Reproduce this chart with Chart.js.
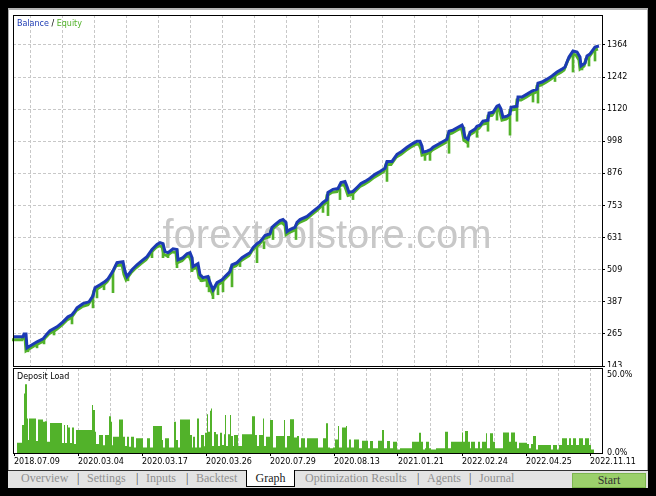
<!DOCTYPE html>
<html lang="en">
<head>
<meta charset="UTF-8">
<script src="https://cdn.jsdelivr.net/npm/chart.js"></script>
<title>Balance / Equity</title>
<style>
    body { margin: 0; width: 656px; height: 496px; background: #000; overflow: hidden; position: relative; }
    #frame { position: absolute; left: 8px; top: 8px; width: 638px; height: 460px; background: #fff;
             border-top: 2px solid #b4b4b4; border-left: 1px solid #a8a8a8; border-right: 1px solid #a8a8a8; }
    #main { position: absolute; left: 9px; top: 10px; }
    #load { position: absolute; left: 9px; top: 367px; background: #fff; }
    #tabs { position: absolute; left: 8px; top: 470px; width: 640px; height: 17px; background: #e3e3e3;
            border-top: 1px solid #333; font-family: 'Liberation Serif', serif; font-size: 12px; }
    #tabs span { position: absolute; top: 0; line-height: 15px; color: #909090; white-space: nowrap; }
    #tabs span.sep { color: #444; }
    #graphTab { position: absolute; left: 238px; top: -1px; width: 47px; height: 16px; background: #fff;
                border: 1px solid #000; border-top: none; text-align: center; line-height: 16px; color: #222; }
    #start { position: absolute; left: 564px; top: 2px; width: 72px; height: 13px; background: #9bd06b;
             border: 1px solid #7db64f; text-align: center; line-height: 13px; color: #333; }
</style>
</head>
<body>
<div id="frame"></div>
<canvas id="main" width="638" height="357"></canvas>
<canvas id="load" width="638" height="103"></canvas>
<div id="tabs">
    <span style="left:13px">Overview</span>
    <span class="sep" style="left:69px">|</span>
    <span style="left:79px">Settings</span>
    <span class="sep" style="left:128px">|</span>
    <span style="left:138px">Inputs</span>
    <span class="sep" style="left:178px">|</span>
    <span style="left:188px">Backtest</span>
    <div id="graphTab">Graph</div>
    <span style="left:297px">Optimization Results</span>
    <span class="sep" style="left:409px">|</span>
    <span style="left:419px">Agents</span>
    <span class="sep" style="left:461px">|</span>
    <span style="left:471px">Journal</span>
    <div id="start">Start</div>
</div>
<script>
    // x = trade number along the test, balance in account currency
    const balanceIdx = [0, 10, 11, 13, 14, 17, 24, 30, 34, 37, 44, 50, 55, 59, 62, 64, 70, 76, 80, 82, 87, 92, 95, 99, 100,
        104, 110, 112, 114, 119, 124, 129, 134, 139, 144, 147, 150, 152, 155, 160, 164, 165, 170, 174, 177, 179, 180, 185,
        187, 190, 195, 197, 200, 204, 209, 212, 217, 219, 224, 229, 234, 237, 240, 244, 247, 252, 257, 259, 262, 267, 270,
        273, 274, 277, 282, 284, 287, 294, 300, 305, 310, 314, 315, 320, 325, 328, 332, 334, 336, 340, 344, 348, 352, 357,
        362, 367, 372, 374, 379, 384, 389, 394, 400, 404, 407, 409, 410, 414, 418, 420, 427, 434, 436, 440, 445, 449, 450,
        452, 455, 457, 462, 464, 467, 470, 475, 476, 480, 484, 486, 488, 490, 494, 497, 498, 504, 505, 509, 514, 519, 524,
        525, 529, 534, 539, 544, 549, 552, 556, 560, 564, 567, 568, 572, 574, 577, 582, 586];
    const balanceVal = [254, 254, 265, 265, 212, 219, 235, 246, 265, 277, 292, 311, 330, 338, 353, 364, 380, 387, 410, 441,
        452, 464, 475, 498, 505, 536, 540, 502, 483, 509, 528, 544, 559, 586, 605, 612, 608, 578, 574, 589, 586, 547, 555,
        570, 574, 555, 521, 532, 490, 479, 483, 460, 433, 460, 471, 483, 502, 528, 536, 555, 567, 574, 593, 608, 616, 639,
        646, 670, 681, 696, 700, 689, 654, 662, 670, 689, 700, 712, 731, 746, 765, 776, 803, 815, 818, 841, 845, 826, 803,
        807, 822, 837, 845, 857, 872, 883, 895, 921, 921, 948, 960, 975, 990, 998, 998, 979, 956, 960, 967, 975, 990, 1005,
        1036, 1040, 1051, 1059, 1051, 1013, 1005, 1032, 1044, 1055, 1059, 1074, 1078, 1105, 1108, 1131, 1135, 1120, 1089,
        1093, 1101, 1127, 1131, 1166, 1166, 1177, 1189, 1196, 1219, 1223, 1234, 1246, 1261, 1272, 1280, 1318, 1341, 1337,
        1318, 1284, 1295, 1322, 1330, 1356, 1360];

    // equity drawdowns while trades were open
    const dipIdx = [15, 24, 31, 41, 59, 80, 84, 91, 100, 115, 139, 150, 155, 164, 179, 188, 194, 196, 200, 205, 210, 219,
        227, 244, 251, 260, 283, 310, 315, 327, 340, 374, 412, 417, 436, 451, 455, 464, 475, 484, 497, 504, 520, 525, 542,
        560, 569, 576, 582];
    const dipLow = [197, 212, 227, 261, 303, 364, 402, 433, 422, 467, 555, 555, 555, 517, 502, 464, 444, 425, 399, 414,
        425, 444, 521, 536, 589, 624, 624, 727, 715, 776, 776, 845, 925, 925, 952, 998, 975, 1013, 1036, 1078, 1021, 1074,
        1147, 1143, 1225, 1261, 1269, 1284, 1303];

    const balanceTicks = [143, 265, 387, 509, 631, 753, 876, 998, 1120, 1242, 1364];
    const gridIdx = [1, 33, 65, 97, 129, 161, 193, 225, 257, 289, 321, 353, 385, 417, 449, 481, 513, 545, 577];
    const dateLabels = ['2018.07.09', '2020.03.04', '2020.03.17', '2020.03.26', '2020.07.29', '2020.08.13',
        '2021.01.21', '2022.02.24', '2022.04.25', '2022.11.11'];

    // deposit load, % (value holds until the next index)
    const loadIdx = [0, 4, 9, 11, 12, 14, 15, 16, 23, 25, 30, 32, 34, 37, 49, 51, 52, 54, 55, 57, 59, 61, 63, 79, 80, 82,
        83, 86, 90, 92, 96, 98, 99, 100, 106, 110, 112, 114, 116, 118, 121, 123, 130, 134, 137, 140, 149, 150, 152, 156,
        161, 163, 165, 167, 177, 179, 180, 182, 184, 186, 188, 191, 192, 194, 195, 197, 198, 199, 201, 203, 205, 207, 209,
        211, 212, 213, 215, 217, 218, 220, 221, 225, 229, 239, 242, 244, 246, 250, 251, 253, 257, 260, 263, 271, 272, 274,
        277, 281, 284, 286, 288, 292, 294, 305, 310, 313, 315, 317, 320, 322, 325, 326, 329, 333, 334, 336, 338, 341, 346,
        349, 355, 357, 360, 365, 369, 371, 374, 377, 380, 384, 387, 399, 406, 408, 410, 412, 413, 416, 418, 423, 432, 435,
        438, 449, 450, 452, 455, 457, 458, 462, 465, 467, 469, 473, 474, 477, 480, 482, 490, 496, 498, 502, 504, 506, 514,
        516, 518, 520, 523, 525, 538, 540, 544, 546, 549, 554, 556, 558, 560, 563, 566, 570, 572, 576, 578, 581, 586];
    const loadPct = [7.2, 0, 6.6, 17.9, 38.1, 44.1, 22.2, 8.3, 22.2, 7.7, 21.5, 20.0, 20.4, 7.2, 19.2, 6.4, 17.9, 6.4,
        17.9, 16.4, 6.4, 16.4, 5.8, 14.7, 30.7, 27.5, 13.6, 5.8, 11.5, 4.9, 11.5, 23.6, 20.0, 4.9, 10.4, 21.5, 10.4, 4.5,
        10.4, 4.0, 10.4, 3.6, 9.4, 3.6, 9.4, 3.6, 17.3, 8.3, 3.6, 9.4, 3.6, 20.0, 8.3, 3.6, 21.5, 11.5, 3.6, 10.4, 3.6,
        22.2, 3.6, 11.5, 4.3, 13.0, 24.9, 13.6, 27.1, 28.5, 4.5, 13.4, 12.1, 4.5, 13.0, 5.1, 12.1, 24.3, 4.5, 12.1, 24.3,
        10.9, 4.5, 11.5, 4.5, 12.1, 23.6, 11.5, 4.5, 11.5, 22.2, 4.5, 10.4, 21.1, 3.6, 10.9, 21.1, 3.6, 10.9, 21.7, 10.0,
        10.9, 3.6, 9.4, 3.6, 9.4, 3.6, 9.4, 19.0, 3.6, 3.0, 3.6, 8.7, 17.3, 3.6, 16.4, 17.3, 3.6, 8.7, 3.6, 8.7, 3.0, 7.9,
        3.0, 7.7, 3.0, 7.9, 14.7, 3.0, 7.7, 3.0, 7.2, 2.3, 3.0, 7.2, 13.0, 7.2, 2.3, 3.0, 7.2, 3.0, 2.3, 3.0, 13.6, 3.0,
        7.2, 13.2, 7.2, 14.1, 7.2, 3.0, 7.2, 3.0, 7.2, 3.0, 7.2, 12.6, 3.0, 12.6, 7.2, 3.0, 13.2, 7.2, 13.2, 7.2, 3.0, 6.6,
        5.8, 3.0, 5.8, 10.9, 2.3, 5.1, 2.3, 5.1, 2.3, 5.1, 9.4, 5.1, 9.4, 5.1, 9.4, 5.1, 9.4, 5.1, 9.4, 5.1, 2.3, 0];
    const loadTicks = [0, 50];

    const BLUE = '#1c3ab4';
    const GREEN = '#52b22a';
    const GRID = '#c8c8c8';
    const tickFont = {family: 'DejaVu Sans', size: 8};

    function balanceAt(t) {
        let v = balanceVal[0];
        for (let i = 0; i < balanceIdx.length; i++) {
            if (balanceIdx[i] <= t) v = balanceVal[i];
        }
        return v;
    }

    const panelFrame = {
        id: 'panelFrame',
        afterDraw(chart) {
            const {ctx, chartArea: a} = chart;
            ctx.save();
            ctx.strokeStyle = '#000';
            ctx.lineWidth = 1;
            ctx.strokeRect(a.left + 0.5, a.top + 0.5, a.right - a.left, a.bottom - a.top);
            ctx.restore();
        }
    };

    // title text + watermark on the balance panel, equity drawn slightly under the balance
    const mainDecor = {
        id: 'mainDecor',
        beforeDatasetsDraw(chart) {
            const ctx = chart.ctx;
            ctx.save();
            ctx.font = '40px "Liberation Sans"';
            ctx.fillStyle = '#c8c8c8';
            ctx.textAlign = 'center';
            ctx.textBaseline = 'alphabetic';
            ctx.fillText('forextoolstore.com', 318, 238);
            ctx.restore();
        },
        beforeDatasetDraw(chart, args) {
            if (args.index === 1) {
                chart.ctx.save();
                chart.ctx.translate(-1, 3);
            }
        },
        afterDatasetDraw(chart, args) {
            if (args.index === 1) chart.ctx.restore();
        },
        afterDraw(chart) {
            const ctx = chart.ctx;
            ctx.save();
            ctx.font = '8px "DejaVu Sans"';
            ctx.textBaseline = 'middle';
            let x = 8;
            const parts = [['Balance', BLUE], [' / ', '#000'], ['Equity', GREEN]];
            for (const [txt, col] of parts) {
                ctx.fillStyle = col;
                ctx.fillText(txt, x, 14);
                x += ctx.measureText(txt).width;
            }
            ctx.restore();
        }
    };

    const loadDecor = {
        id: 'loadDecor',
        afterDraw(chart) {
            const ctx = chart.ctx;
            ctx.save();
            ctx.font = '8px "DejaVu Sans"';
            ctx.fillStyle = '#000';
            ctx.textBaseline = 'middle';
            ctx.fillText('Deposit Load', 8, 10);
            ctx.restore();
        }
    };

    function fixRight(width) {
        return (scale) => {
            scale.width = width;
            scale.paddingTop = 0;
            scale.paddingBottom = 0;
        };
    }

    const xGridTicks = (scale) => { scale.ticks = gridIdx.map(v => ({value: v})); };

    new Chart(document.getElementById('main'), {
        type: 'line',
        data: {
            datasets: [{
                label: 'Balance',
                data: balanceIdx.map((t, i) => ({x: t, y: balanceVal[i]})),
                borderColor: BLUE,
                borderWidth: 3,
                pointRadius: 0,
                order: 0
            }, {
                label: 'Equity',
                data: balanceIdx.map((t, i) => ({x: t, y: balanceVal[i]})),
                borderColor: GREEN,
                borderWidth: 3,
                pointRadius: 0,
                order: 1
            }, {
                type: 'bar',
                label: 'Equity drawdown',
                data: dipIdx.map((t, i) => ({x: t, y: [dipLow[i], balanceAt(t)]})),
                backgroundColor: GREEN,
                barThickness: 2,
                grouped: false,
                order: 2
            }]
        },
        options: {
            responsive: false,
            animation: false,
            devicePixelRatio: 1,
            events: [],
            layout: {padding: {left: 4, top: 5, right: 0, bottom: 1}},
            plugins: {legend: {display: false}, tooltip: {enabled: false}},
            scales: {
                x: {
                    type: 'linear', min: 0, max: 589, offset: false,
                    afterBuildTicks: xGridTicks,
                    afterFit: (s) => { s.height = 0; s.paddingLeft = 0; s.paddingRight = 0; },
                    ticks: {display: false},
                    border: {display: false, dash: [3, 2]},
                    grid: {color: (c) => c.index === 0 ? 'rgba(0,0,0,0)' : GRID, drawTicks: false}
                },
                y: {
                    position: 'right', min: 143, max: 1478,
                    afterBuildTicks: (s) => { s.ticks = balanceTicks.map(v => ({value: v})); },
                    afterFit: fixRight(45),
                    ticks: {color: '#000', font: tickFont, padding: 2, callback: (v) => String(v)},
                    border: {display: false, dash: [3, 2]},
                    grid: {color: (c) => c.index === 0 ? 'rgba(0,0,0,0)' : GRID,
                           tickColor: '#000', tickLength: 3, tickBorderDash: []}
                }
            }
        },
        plugins: [mainDecor, panelFrame]
    });

    new Chart(document.getElementById('load'), {
        type: 'line',
        data: {
            datasets: [{
                label: 'Deposit Load',
                data: loadIdx.map((t, i) => ({x: t, y: loadPct[i]})),
                stepped: 'after',
                fill: 'origin',
                backgroundColor: GREEN,
                borderWidth: 0,
                pointRadius: 0
            }]
        },
        options: {
            responsive: false,
            animation: false,
            devicePixelRatio: 1,
            events: [],
            layout: {padding: {left: 4, top: 1, right: 0, bottom: 0}},
            plugins: {legend: {display: false}, tooltip: {enabled: false}},
            scales: {
                x: {
                    type: 'linear', min: 0, max: 589, offset: false,
                    afterBuildTicks: xGridTicks,
                    afterFit: (s) => { s.height = 17; s.paddingLeft = 0; s.paddingRight = 0; },
                    ticks: {
                        color: '#000', font: tickFont, align: 'start', padding: 1,
                        autoSkip: false, maxRotation: 0, minRotation: 0,
                        callback: (v, i) => i % 2 === 0 ? dateLabels[i / 2] : ''
                    },
                    border: {display: false, dash: [3, 2]},
                    grid: {
                        color: (c) => c.index === 0 ? 'rgba(0,0,0,0)' : GRID,
                        tickColor: (c) => c.index % 2 === 0 ? '#000' : 'rgba(0,0,0,0)',
                        tickLength: 3, tickBorderDash: []
                    }
                },
                y: {
                    position: 'right', min: 0, max: 54.5,
                    afterBuildTicks: (s) => { s.ticks = loadTicks.map(v => ({value: v})); },
                    afterFit: fixRight(45),
                    ticks: {color: '#000', font: tickFont, padding: 2, callback: (v) => v.toFixed(1) + '%'},
                    border: {display: false},
                    grid: {color: 'rgba(0,0,0,0)', tickColor: 'rgba(0,0,0,0)', tickLength: 3}
                }
            }
        },
        plugins: [loadDecor, panelFrame]
    });
</script>
</body>
</html>
